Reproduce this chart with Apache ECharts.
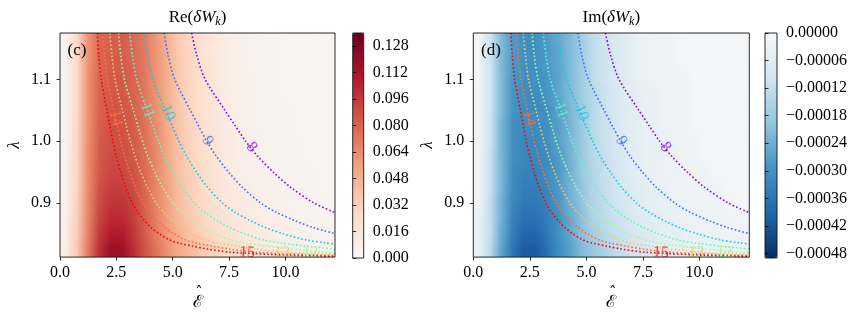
<!DOCTYPE html>
<html><head><meta charset="utf-8">
<script src="https://cdn.jsdelivr.net/npm/echarts@6/dist/echarts.min.js"></script>
<style>html,body{margin:0;padding:0;background:#fff}#c{width:859px;height:316px}</style>
</head><body><div id="c"></div>
<script>
// ---------- data ----------
const energies = [0.25,0.75,1.25,1.75,2.25,2.75,3.25,3.75,4.25,4.75,5.25,5.75,6.25,6.75,7.25,7.75,8.25,8.75,9.25,9.75,10.25,10.75,11.25,11.75,12.25];
const lambdas = [0.825,0.85,0.875,0.9,0.925,0.95,0.975,1.0,1.025,1.05,1.075,1.1,1.125,1.15,1.175];
const reValues = [
[0.008,0.036,0.072,0.100,0.117,0.116,0.102,0.087,0.074,0.062,0.052,0.044,0.037,0.031,0.026,0.022,0.018,0.015,0.013,0.011,0.009,0.008,0.007,0.006,0.005],
[0.007,0.034,0.069,0.096,0.108,0.108,0.098,0.084,0.071,0.059,0.048,0.040,0.033,0.027,0.022,0.018,0.015,0.013,0.011,0.009,0.008,0.007,0.006,0.005,0.005],
[0.007,0.033,0.067,0.092,0.102,0.102,0.095,0.082,0.069,0.057,0.045,0.037,0.030,0.024,0.019,0.016,0.013,0.011,0.009,0.008,0.007,0.006,0.005,0.004,0.004],
[0.006,0.032,0.066,0.089,0.098,0.098,0.092,0.080,0.068,0.056,0.043,0.035,0.028,0.022,0.017,0.014,0.011,0.009,0.008,0.007,0.006,0.005,0.004,0.004,0.003],
[0.006,0.031,0.065,0.087,0.094,0.094,0.089,0.079,0.067,0.055,0.042,0.034,0.027,0.021,0.016,0.013,0.010,0.008,0.007,0.006,0.005,0.005,0.004,0.003,0.003],
[0.006,0.030,0.064,0.085,0.091,0.091,0.087,0.078,0.066,0.054,0.041,0.033,0.026,0.020,0.015,0.012,0.009,0.008,0.006,0.005,0.005,0.004,0.004,0.003,0.003],
[0.005,0.030,0.064,0.084,0.089,0.089,0.085,0.077,0.066,0.053,0.040,0.032,0.025,0.019,0.015,0.011,0.009,0.007,0.006,0.005,0.004,0.004,0.003,0.003,0.003],
[0.005,0.029,0.063,0.083,0.088,0.088,0.084,0.076,0.065,0.053,0.040,0.031,0.024,0.018,0.014,0.011,0.008,0.007,0.005,0.005,0.004,0.004,0.003,0.003,0.002],
[0.005,0.029,0.063,0.082,0.087,0.087,0.083,0.075,0.064,0.052,0.039,0.031,0.024,0.018,0.013,0.010,0.008,0.006,0.005,0.004,0.004,0.003,0.003,0.003,0.002],
[0.005,0.028,0.062,0.081,0.086,0.086,0.082,0.074,0.063,0.051,0.038,0.030,0.023,0.017,0.013,0.010,0.008,0.006,0.005,0.004,0.004,0.003,0.003,0.002,0.002],
[0.005,0.028,0.062,0.080,0.085,0.085,0.081,0.073,0.062,0.050,0.038,0.030,0.023,0.017,0.013,0.010,0.007,0.006,0.005,0.004,0.003,0.003,0.003,0.002,0.002],
[0.004,0.028,0.062,0.080,0.084,0.084,0.080,0.072,0.061,0.050,0.037,0.029,0.022,0.017,0.012,0.009,0.007,0.006,0.005,0.004,0.003,0.003,0.003,0.002,0.002],
[0.004,0.027,0.061,0.079,0.083,0.083,0.079,0.071,0.061,0.049,0.037,0.029,0.022,0.016,0.012,0.009,0.007,0.005,0.004,0.004,0.003,0.003,0.003,0.002,0.002],
[0.004,0.027,0.061,0.079,0.082,0.082,0.078,0.071,0.060,0.049,0.036,0.028,0.021,0.016,0.012,0.009,0.007,0.005,0.004,0.004,0.003,0.003,0.002,0.002,0.002],
[0.004,0.027,0.061,0.078,0.082,0.082,0.078,0.070,0.060,0.048,0.036,0.028,0.021,0.016,0.012,0.009,0.007,0.005,0.004,0.004,0.003,0.003,0.003,0.002,0.002]
];
const imValues = [
[-0.00003,-0.00013,-0.00026,-0.00036,-0.00041,-0.00041,-0.00037,-0.00031,-0.00027,-0.00022,-0.00019,-0.00016,-0.00013,-0.00011,-0.00009,-0.00008,-0.00006,-0.00005,-0.00005,-0.00004,-0.00003,-0.00003,-0.00003,-0.00002,-0.00002],
[-0.00003,-0.00012,-0.00025,-0.00034,-0.00039,-0.00039,-0.00035,-0.00030,-0.00026,-0.00021,-0.00017,-0.00014,-0.00012,-0.00010,-0.00008,-0.00007,-0.00005,-0.00005,-0.00004,-0.00003,-0.00003,-0.00003,-0.00002,-0.00002,-0.00002],
[-0.00003,-0.00012,-0.00024,-0.00033,-0.00037,-0.00037,-0.00034,-0.00030,-0.00025,-0.00021,-0.00016,-0.00013,-0.00011,-0.00009,-0.00007,-0.00006,-0.00005,-0.00004,-0.00003,-0.00003,-0.00003,-0.00002,-0.00002,-0.00001,-0.00001],
[-0.00002,-0.00012,-0.00024,-0.00032,-0.00035,-0.00035,-0.00033,-0.00029,-0.00024,-0.00020,-0.00015,-0.00013,-0.00010,-0.00008,-0.00006,-0.00005,-0.00004,-0.00003,-0.00003,-0.00003,-0.00002,-0.00002,-0.00001,-0.00001,-0.00001],
[-0.00002,-0.00011,-0.00023,-0.00031,-0.00034,-0.00034,-0.00032,-0.00028,-0.00024,-0.00020,-0.00015,-0.00012,-0.00010,-0.00008,-0.00006,-0.00005,-0.00004,-0.00003,-0.00003,-0.00002,-0.00002,-0.00002,-0.00001,-0.00001,-0.00001],
[-0.00002,-0.00011,-0.00023,-0.00031,-0.00033,-0.00033,-0.00031,-0.00028,-0.00024,-0.00019,-0.00015,-0.00012,-0.00009,-0.00007,-0.00005,-0.00004,-0.00003,-0.00003,-0.00002,-0.00002,-0.00002,-0.00001,-0.00001,-0.00001,-0.00001],
[-0.00002,-0.00011,-0.00023,-0.00030,-0.00032,-0.00032,-0.00031,-0.00028,-0.00024,-0.00019,-0.00014,-0.00012,-0.00009,-0.00007,-0.00005,-0.00004,-0.00003,-0.00003,-0.00002,-0.00002,-0.00001,-0.00001,-0.00001,-0.00001,-0.00001],
[-0.00002,-0.00010,-0.00023,-0.00030,-0.00032,-0.00032,-0.00030,-0.00027,-0.00023,-0.00019,-0.00014,-0.00011,-0.00009,-0.00006,-0.00005,-0.00004,-0.00003,-0.00003,-0.00002,-0.00002,-0.00001,-0.00001,-0.00001,-0.00001,-0.00001],
[-0.00002,-0.00010,-0.00023,-0.00030,-0.00031,-0.00031,-0.00030,-0.00027,-0.00023,-0.00019,-0.00014,-0.00011,-0.00009,-0.00006,-0.00005,-0.00004,-0.00003,-0.00002,-0.00002,-0.00001,-0.00001,-0.00001,-0.00001,-0.00001,-0.00001],
[-0.00002,-0.00010,-0.00022,-0.00029,-0.00031,-0.00031,-0.00030,-0.00027,-0.00023,-0.00018,-0.00014,-0.00011,-0.00008,-0.00006,-0.00005,-0.00004,-0.00003,-0.00002,-0.00002,-0.00001,-0.00001,-0.00001,-0.00001,-0.00001,-0.00001],
[-0.00002,-0.00010,-0.00022,-0.00029,-0.00031,-0.00031,-0.00029,-0.00026,-0.00022,-0.00018,-0.00014,-0.00011,-0.00008,-0.00006,-0.00005,-0.00004,-0.00003,-0.00002,-0.00002,-0.00001,-0.00001,-0.00001,-0.00001,-0.00001,-0.00001],
[-0.00001,-0.00010,-0.00022,-0.00029,-0.00030,-0.00030,-0.00029,-0.00026,-0.00022,-0.00018,-0.00013,-0.00010,-0.00008,-0.00006,-0.00004,-0.00003,-0.00003,-0.00002,-0.00002,-0.00001,-0.00001,-0.00001,-0.00001,-0.00001,-0.00001],
[-0.00001,-0.00010,-0.00022,-0.00028,-0.00030,-0.00030,-0.00028,-0.00026,-0.00022,-0.00018,-0.00013,-0.00010,-0.00008,-0.00006,-0.00004,-0.00003,-0.00003,-0.00002,-0.00001,-0.00001,-0.00001,-0.00001,-0.00001,-0.00001,-0.00001],
[-0.00001,-0.00010,-0.00022,-0.00028,-0.00030,-0.00030,-0.00028,-0.00026,-0.00022,-0.00018,-0.00013,-0.00010,-0.00008,-0.00006,-0.00004,-0.00003,-0.00003,-0.00002,-0.00001,-0.00001,-0.00001,-0.00001,-0.00001,-0.00001,-0.00001],
[-0.00001,-0.00010,-0.00022,-0.00028,-0.00030,-0.00030,-0.00028,-0.00025,-0.00022,-0.00017,-0.00013,-0.00010,-0.00008,-0.00006,-0.00004,-0.00003,-0.00003,-0.00002,-0.00001,-0.00001,-0.00001,-0.00001,-0.00001,-0.00001,-0.00001]
];
const xRange = [0, 12.2];
const yRange = [0.812, 1.175];
const xTicks = [0, 2.5, 5, 7.5, 10];
const yTicks = [0.9, 1.0, 1.1];
const reRange = [0, 0.136];
const imRange = [-0.00049, 0];
const reTicks = [0, 0.016, 0.032, 0.048, 0.064, 0.080, 0.096, 0.112, 0.128];
const imTicks = [0, -0.00006, -0.00012, -0.00018, -0.00024, -0.00030, -0.00036, -0.00042, -0.00048];
const contourLevels = [8, 9, 10, 11, 12, 13, 14, 15];
const contour8 = [[5.84,1.175],[6.06,1.14],[6.44,1.10],[7.31,1.05],[7.77,1.025],[8.23,1.0],[8.78,0.975],[9.45,0.95],[10.23,0.925],[11.25,0.9],[12.2,0.884]];
const contour9 = [[4.62,1.175],[4.79,1.14],[5.09,1.10],[5.78,1.05],[6.14,1.025],[6.51,1.0],[6.94,0.975],[7.47,0.95],[8.09,0.925],[8.89,0.9],[9.57,0.885],[10.49,0.87],[11.23,0.86],[12.2,0.85]];
const contour10 = [[3.74,1.175],[3.88,1.14],[4.12,1.10],[4.68,1.05],[4.97,1.025],[5.27,1.0],[5.62,0.975],[6.05,0.95],[6.55,0.925],[7.2,0.9],[7.75,0.885],[8.5,0.87],[9.1,0.86],[9.88,0.85],[10.9,0.84],[11.8,0.835],[12.2,0.833]];
const contour11 = [[3.09,1.175],[3.21,1.14],[3.40,1.10],[3.87,1.05],[4.11,1.025],[4.36,1.0],[4.64,0.975],[5.0,0.95],[5.41,0.925],[5.95,0.9],[6.40,0.885],[7.02,0.87],[7.52,0.86],[8.17,0.85],[9.01,0.84],[9.75,0.835],[10.9,0.83],[12.2,0.825]];
const contour12 = [[2.60,1.175],[2.69,1.14],[2.86,1.10],[3.25,1.05],[3.45,1.025],[3.66,1.0],[3.90,0.975],[4.20,0.95],[4.55,0.925],[5.0,0.9],[5.38,0.885],[5.90,0.87],[6.32,0.86],[6.86,0.85],[7.57,0.84],[8.19,0.835],[9.17,0.83],[10.25,0.825],[11.8,0.82],[12.2,0.819]];
const contour13 = [[2.21,1.175],[2.30,1.14],[2.44,1.10],[2.77,1.05],[2.94,1.025],[3.12,1.0],[3.33,0.975],[3.58,0.95],[3.88,0.925],[4.26,0.9],[4.59,0.885],[5.03,0.87],[5.38,0.86],[5.85,0.85],[6.45,0.84],[6.98,0.835],[7.81,0.83],[8.73,0.825],[10.06,0.82],[12.2,0.8165]];
const contour14 = [[1.91,1.175],[1.98,1.14],[2.10,1.10],[2.39,1.05],[2.54,1.025],[2.69,1.0],[2.87,0.975],[3.09,0.95],[3.34,0.925],[3.67,0.9],[3.95,0.885],[4.34,0.87],[4.64,0.86],[5.04,0.85],[5.56,0.84],[6.02,0.835],[6.73,0.83],[7.53,0.825],[8.67,0.82],[11.73,0.815],[12.2,0.8145]];
const contour15 = [[1.66,1.175],[1.72,1.14],[1.83,1.10],[2.08,1.05],[2.21,1.025],[2.34,1.0],[2.50,0.975],[2.69,0.95],[2.91,0.925],[3.2,0.9],[3.44,0.885],[3.78,0.87],[4.04,0.86],[4.39,0.85],[4.84,0.84],[5.24,0.835],[5.87,0.83],[6.56,0.825],[7.56,0.82],[10.22,0.815],[12.2,0.8133]];
const labelLevels = [8, 9, 10, 11, 14, 15, 13, 12];
const labelE = [8.5, 6.55, 4.78, 3.87, 2.47, 8.3, 9.85, 11.1];
const labelLambda = [0.99, 1.0, 1.046, 1.05, 1.037, 0.8195, 0.8195, 0.8195];

// ---------- styles ----------
const contourData = {8:contour8, 9:contour9, 10:contour10, 11:contour11, 12:contour12, 13:contour13, 14:contour14, 15:contour15};
const levelColors = {8:'#8000ff', 9:'#376ff9', 10:'#12c8e6', 11:'#5bf9c7', 12:'#a4f99f', 13:'#edc76f', 14:'#ff6f39', 15:'#ff0000'};
const labelRotate = {8:-51, 9:-58, 10:-67, 11:-71, 12:-3, 13:-3, 14:-78, 15:-3};
const redMap = ['#f7f7f7','#fddbc7','#f4a582','#d6604d','#b2182b','#67001f'];
const blueMap = ['#053061','#2166ac','#4393c3','#92c5de','#d1e5f0','#f7f7f7'];
const serif = 'Liberation Serif';
const G = [
  {left:60, top:33, width:275, height:225},
  {left:473.3, top:33, width:276, height:225},
  {left:352.7, top:33, width:11, height:225},
  {left:765, top:33, width:12, height:225}
];

function cells(values){
  const out = [];
  values.forEach((row,i)=>row.forEach((v,j)=>out.push([energies[j], lambdas[i], v])));
  return out;
}
// Gouraud-like shading between the centres of the read cells
function shadeRenderer(params, api){
  const cols = energies.length, rows = lambdas.length;
  const idx = params.dataIndexInside;
  const i = Math.floor(idx/cols), j = idx % cols;
  const cs = params.coordSys;
  const L = cs.x, R = cs.x+cs.width, T = cs.y, B = cs.y+cs.height;
  const px = e => api.coord([e, lambdas[0]])[0];
  const py = l => api.coord([energies[0], l])[1];
  const c = (ii,jj) => api.visual('color', ii*cols+jj);
  const xSegs = [], ySegs = [];
  if (j < cols-1) xSegs.push([px(energies[j]), px(energies[j+1]), j, j+1]);
  if (j === 0) xSegs.push([L, px(energies[0]), 0, 0]);
  if (i < rows-1) ySegs.push([py(lambdas[i]), py(lambdas[i+1]), i, i+1]);
  if (i === 0) ySegs.push([B, py(lambdas[0]), 0, 0]);
  const children = [];
  xSegs.forEach(xs=>{
    const x0 = Math.round(Math.max(xs[0], L)), x1 = Math.round(Math.min(xs[1], R));
    if (x1 <= x0) return;
    ySegs.forEach(ys=>{
      const yb = Math.round(Math.min(ys[0], B)), yt = Math.round(Math.max(ys[1], T));
      if (yb <= yt) return;
      const cBL = c(ys[2], xs[2]), cBR = c(ys[2], xs[3]), cTL = c(ys[3], xs[2]), cTR = c(ys[3], xs[3]);
      const n = Math.max(1, Math.round((yb-yt)/2));
      for (let s=0; s<n; s++){
        const sb = Math.round(yb - s*(yb-yt)/n), st = Math.round(yb - (s+1)*(yb-yt)/n);
        if (sb <= st) continue;
        const yc = (sb+st)/2;
        let t = (ys[0]-yc)/(ys[0]-ys[1]);
        t = Math.max(0, Math.min(1, t));
        const cl = echarts.color.lerp(t, [cBL, cTL]), cr = echarts.color.lerp(t, [cBR, cTR]);
        children.push({type:'rect', shape:{x:x0, y:st, width:x1-x0, height:sb-st},
          style:{fill:new echarts.graphic.LinearGradient(xs[0], 0, xs[1], 0,
            [{offset:0,color:cl},{offset:1,color:cr}], true)}});
      }
    });
  });
  return {type:'group', children};
}
function panelSeries(values, g){
  const s = [{
    type:'custom', xAxisIndex:g, yAxisIndex:g, renderItem:shadeRenderer,
    data:cells(values), encode:{x:0, y:1}, dimensions:['E','lambda','v'], silent:true, z:1
  }];
  contourLevels.forEach(n=>{
    s.push({type:'line', xAxisIndex:g, yAxisIndex:g, data:contourData[n], showSymbol:false,
      smooth:0.3, clip:true, silent:true, z:3,
      lineStyle:{color:levelColors[n], width:1.6, type:[1.6,2.2], cap:'butt'}});
  });
  s.push({type:'scatter', xAxisIndex:g, yAxisIndex:g, symbolSize:0, silent:true, z:4,
    labelLayout:{hideOverlap:false},
    data:labelLevels.map((n,i)=>({value:[labelE[i], labelLambda[i]],
      label:{show:true, position:'inside', formatter:String(n), rotate:labelRotate[n],
        color:levelColors[n], fontFamily:serif, fontSize:16}}))});
  return s;
}
function mainX(g){
  return {gridIndex:g, type:'value', min:xRange[0], max:xRange[1], z:6,
    axisLine:{show:false}, splitLine:{show:false},
    axisTick:{show:true, inside:false, length:3.5, lineStyle:{color:'#000', width:0.8}, customValues:xTicks},
    axisLabel:{color:'#000', fontFamily:serif, fontSize:16, margin:8, customValues:xTicks, formatter:v=>v.toFixed(1)},
    name:'{h|\u02c6}\n{e|\u2130}', nameLocation:'middle', nameGap:22,
    nameTextStyle:{color:'#000', rich:{
      h:{fontFamily:'DejaVu Serif', fontSize:15, lineHeight:1, color:'#000', padding:[0,0,0,3]},
      e:{fontFamily:'DejaVu Serif', fontSize:17, lineHeight:17, color:'#000'}}}};
}
function mainY(g){
  return {gridIndex:g, type:'value', min:yRange[0], max:yRange[1], z:6,
    axisLine:{show:false}, splitLine:{show:false},
    axisTick:{show:true, inside:false, length:3.5, lineStyle:{color:'#000', width:0.8}, customValues:yTicks},
    axisLabel:{color:'#000', fontFamily:serif, fontSize:16, margin:9, customValues:yTicks, formatter:v=>v.toFixed(1)},
    name:'\u03bb', nameLocation:'middle', nameGap:37, nameRotate:90,
    nameTextStyle:{color:'#000', fontFamily:serif, fontStyle:'italic', fontSize:17}};
}
function cbX(g){ return {gridIndex:g, type:'value', min:0, max:1, show:false}; }
function cbY(g, range, ticks, fmt){
  return {gridIndex:g, type:'value', position:'right', min:range[0], max:range[1], z:6,
    axisLine:{show:false}, splitLine:{show:false},
    axisTick:{show:true, inside:false, length:3.5, lineStyle:{color:'#000', width:0.8}, customValues:ticks},
    axisLabel:{color:'#000', fontFamily:serif, fontSize:16, margin:9, customValues:ticks, formatter:fmt}};
}
const reFmt = v=>v.toFixed(3);
const imFmt = v=>(Math.abs(v) < 1e-12 ? '0.00000' : '\u2212' + Math.abs(v).toFixed(5));

function titleText(x, pre){
  return {type:'text', x:x, y:18, z:10, style:{
    text:'{n|' + pre + '(}{i|\u03b4W}{s|k}{n|)}', align:'center', verticalAlign:'middle', fill:'#000',
    rich:{n:{fontFamily:serif, fontSize:17, fill:'#000'},
          i:{fontFamily:serif, fontSize:17, fontStyle:'italic', fill:'#000'},
          s:{fontFamily:serif, fontSize:12, fontStyle:'italic', fill:'#000', padding:[8,0,0,0]}}}};
}

const reSeries = panelSeries(reValues, 0);
const imSeries = panelSeries(imValues, 1);
const option = {
  animation:false,
  backgroundColor:'#fff',
  grid:G.map(g=>Object.assign({show:true, borderColor:'#111', borderWidth:0.9, backgroundColor:'transparent', z:5}, g)),
  xAxis:[mainX(0), mainX(1), cbX(2), cbX(3)],
  yAxis:[mainY(0), mainY(1), cbY(2, reRange, reTicks, reFmt), cbY(3, imRange, imTicks, imFmt)],
  visualMap:[
    {type:'continuous', seriesIndex:0, dimension:2, min:reRange[0], max:reRange[1], inRange:{color:redMap},
     left:G[2].left, top:G[2].top, itemWidth:G[2].width, itemHeight:G[2].height, padding:0,
     calculable:false, orient:'vertical', z:1, hoverLink:false},
    {type:'continuous', seriesIndex:reSeries.length, dimension:2, min:imRange[0], max:imRange[1], inRange:{color:blueMap},
     left:G[3].left, top:G[3].top, itemWidth:G[3].width, itemHeight:G[3].height, padding:0,
     calculable:false, orient:'vertical', z:1, hoverLink:false}
  ],
  graphic:[
    titleText(197.5, 'Re'),
    titleText(611.3, 'Im'),
    {type:'text', x:77, y:51, z:10, style:{text:'(c)', fontFamily:serif, fontSize:17, fill:'#000', align:'center', verticalAlign:'middle'}},
    {type:'text', x:491, y:51, z:10, style:{text:'(d)', fontFamily:serif, fontSize:17, fill:'#000', align:'center', verticalAlign:'middle'}}
  ],
  series: reSeries.concat(imSeries)
};
const chart = echarts.init(document.getElementById('c'), null, {renderer:'canvas'});
chart.setOption(option);
</script>
</body></html>
